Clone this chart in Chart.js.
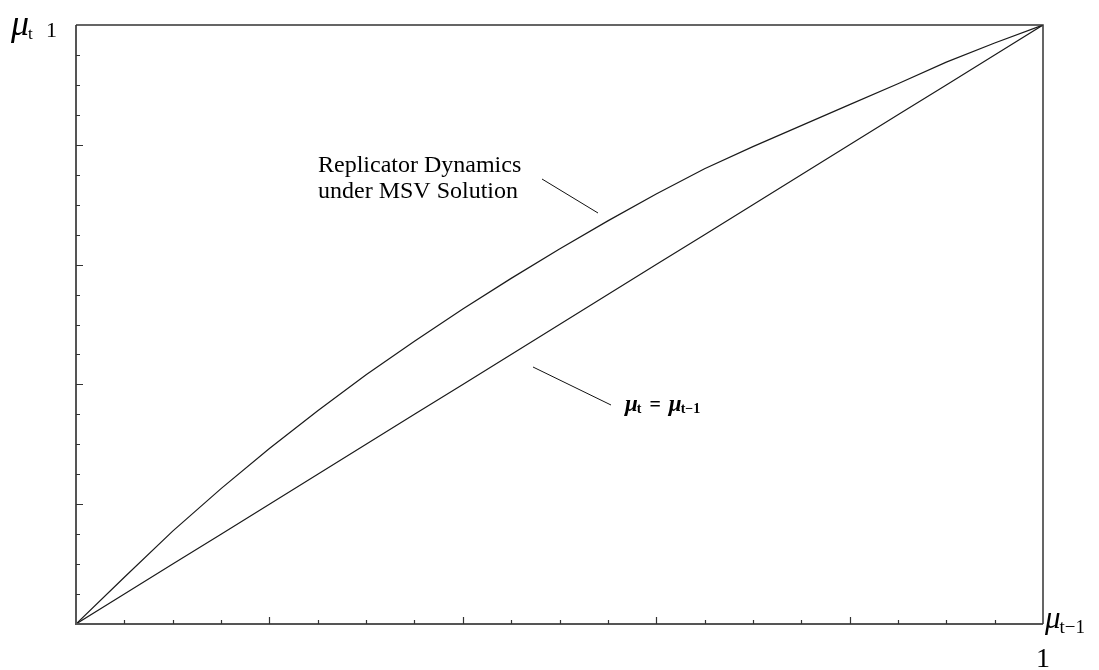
<!DOCTYPE html>
<html>
<head>
<meta charset="utf-8">
<script src="https://cdn.jsdelivr.net/npm/chart.js@4.4.1/dist/chart.umd.min.js"></script>
<style>
  html, body { margin: 0; padding: 0; background: #fff; }
  #wrap { width: 1099px; height: 670px; position: relative; }
</style>
</head>
<body>
<div id="wrap"><canvas id="c"></canvas></div>
<script>
// ---- data ----
const muPrev = [0, 0.05, 0.10, 0.15, 0.20, 0.25, 0.30, 0.35, 0.40, 0.45, 0.50,
                0.55, 0.60, 0.65, 0.70, 0.75, 0.80, 0.85, 0.90, 0.95, 1.00];
const replicatorMSV = [0, 0.078, 0.155, 0.226, 0.293, 0.356, 0.416, 0.472, 0.526, 0.577, 0.626,
                       0.673, 0.718, 0.760, 0.797, 0.832, 0.867, 0.902, 0.938, 0.970, 1.00];
const identityLine = [0, 0.05, 0.10, 0.15, 0.20, 0.25, 0.30, 0.35, 0.40, 0.45, 0.50,
                      0.55, 0.60, 0.65, 0.70, 0.75, 0.80, 0.85, 0.90, 0.95, 1.00];
const xTickValues = [0.05, 0.10, 0.15, 0.20, 0.25, 0.30, 0.35, 0.40, 0.45, 0.50,
                     0.55, 0.60, 0.65, 0.70, 0.75, 0.80, 0.85, 0.90, 0.95];
const yTickValues = [0.05, 0.10, 0.15, 0.20, 0.25, 0.30, 0.35, 0.40, 0.45, 0.50,
                     0.55, 0.60, 0.65, 0.70, 0.75, 0.80, 0.85, 0.90, 0.95];
const majorTickValues = [0.2, 0.4, 0.6, 0.8];
const curveLabelLines = ["Replicator Dynamics", "under MSV Solution"];

const SERIF = '"Liberation Serif", "DejaVu Serif", serif';

function isMajor(v) { return majorTickValues.some(m => Math.abs(m - v) < 1e-9); }

// draw a run of text pieces: [text, font, baselineY, gapAfter]
function drawRun(ctx, x, pieces) {
  pieces.forEach(p => {
    ctx.font = p[1];
    ctx.fillText(p[0], x, p[2]);
    x += ctx.measureText(p[0]).width + (p[3] || 0);
  });
}

const framePlugin = {
  id: 'frame',
  afterDatasetsDraw(chart) {
    const ctx = chart.ctx;
    const xs = chart.scales.x, ys = chart.scales.y;
    const L = xs.getPixelForValue(0), R = xs.getPixelForValue(1);
    const B = ys.getPixelForValue(0), T = ys.getPixelForValue(1);
    ctx.save();
    // frame
    ctx.strokeStyle = '#555';
    ctx.lineWidth = 2;
    ctx.beginPath();
    ctx.moveTo(L, T); ctx.lineTo(L, B); ctx.lineTo(R, B);
    ctx.stroke();
    ctx.strokeStyle = '#333';
    ctx.lineWidth = 1.5;
    ctx.beginPath();
    ctx.moveTo(L, T); ctx.lineTo(R, T); ctx.lineTo(R, B);
    ctx.stroke();
    // inward ticks
    ctx.strokeStyle = '#333';
    ctx.lineWidth = 1.2;
    ctx.beginPath();
    xTickValues.forEach(v => {
      const px = Math.round(xs.getPixelForValue(v)) + 0.5;
      const len = isMajor(v) ? 7 : 4;
      ctx.moveTo(px, B); ctx.lineTo(px, B - len);
    });
    yTickValues.forEach(v => {
      const py = Math.round(ys.getPixelForValue(v)) + 0.5;
      const len = isMajor(v) ? 7 : 4;
      ctx.moveTo(L, py); ctx.lineTo(L + len, py);
    });
    ctx.stroke();

    ctx.fillStyle = '#000';
    ctx.textBaseline = 'alphabetic';
    ctx.textAlign = 'left';
    // top-left: mu_t 1
    drawRun(ctx, 11, [
      ['μ', 'italic 36px ' + SERIF, 35, -1],
      ['t', '17px ' + SERIF, 39, 0]
    ]);
    ctx.font = '22px ' + SERIF;
    ctx.fillText('1', 46, 37);
    // bottom-right: mu_{t-1}
    drawRun(ctx, 1045, [
      ['μ', 'italic 31px ' + SERIF, 628, -1],
      ['t−1', '19px ' + SERIF, 633, 0]
    ]);
    ctx.font = '28px ' + SERIF;
    ctx.fillText('1', 1036, 667);

    // annotation: replicator dynamics
    ctx.font = '24px ' + SERIF;
    ctx.fillText(curveLabelLines[0], 318, 172);
    ctx.fillText(curveLabelLines[1], 318, 198);
    ctx.strokeStyle = '#111';
    ctx.lineWidth = 1;
    ctx.beginPath();
    ctx.moveTo(542, 179); ctx.lineTo(598, 213);
    ctx.moveTo(533, 367); ctx.lineTo(611, 405);
    ctx.stroke();

    // annotation: mu_t = mu_{t-1}
    drawRun(ctx, 625, [
      ['μ', 'bold italic 23px ' + SERIF, 411, -1],
      ['t', 'bold 14px ' + SERIF, 413, 8],
      ['=', 'bold 20px ' + SERIF, 411, 8],
      ['μ', 'bold italic 23px ' + SERIF, 411, -1],
      ['t−1', 'bold 14px ' + SERIF, 413, 0]
    ]);
    ctx.restore();
  }
};

new Chart(document.getElementById('c'), {
  type: 'line',
  data: {
    datasets: [
      {
        label: 'Replicator Dynamics under MSV Solution',
        data: muPrev.map((x, i) => ({ x: x, y: replicatorMSV[i] })),
        borderColor: '#1a1a1a',
        borderWidth: 1.2,
        pointRadius: 0,
        tension: 0,
        fill: false
      },
      {
        label: 'μt = μt−1',
        data: muPrev.map((x, i) => ({ x: x, y: identityLine[i] })),
        borderColor: '#1a1a1a',
        borderWidth: 1.2,
        pointRadius: 0,
        tension: 0,
        fill: false
      }
    ]
  },
  options: {
    responsive: true,
    maintainAspectRatio: false,
    animation: false,
    layout: { padding: { left: 76, right: 56, top: 25, bottom: 46 } },
    plugins: { legend: { display: false }, tooltip: { enabled: false } },
    scales: {
      x: { type: 'linear', min: 0, max: 1, display: false },
      y: { type: 'linear', min: 0, max: 1, display: false }
    }
  },
  plugins: [framePlugin]
});
</script>
</body>
</html>
